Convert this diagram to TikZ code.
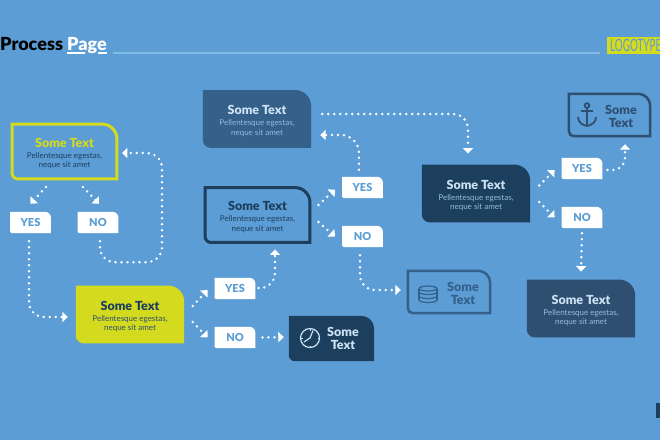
\documentclass[tikz,border=0pt]{standalone}
\usepackage{fontspec}
\setmainfont{Lato}
\newfontfamily\heavyfont{Lato Black}
\usetikzlibrary{arrows.meta,backgrounds}
\definecolor{pagebg}{HTML}{5C9DD6}
\definecolor{limec}{HTML}{D4DA1E}
\definecolor{navyc}{HTML}{1C3F5E}
\definecolor{slatec}{HTML}{2F4F70}
\definecolor{steelc}{HTML}{34608A}
\definecolor{paleb}{HTML}{CDE2F3}
\definecolor{softb}{HTML}{94BBDD}
\definecolor{rulec}{HTML}{82BBE8}
\newcommand{\boxtitlefont}{\fontsize{12.5}{12.5}\heavyfont\selectfont}
\newcommand{\boxdescfont}{\fontsize{8}{9.5}\selectfont}
\newcommand{\flowtext}[2]{\rule{0pt}{13pt}\textcolor{#1}{\boxtitlefont Some Text}\\[1.5pt]\textcolor{#2}{\boxdescfont Pellentesque egestas,}\\\textcolor{#2}{\boxdescfont neque sit amet}}
\newcommand{\tagpath}[3]{(#1.north west) -- ([xshift=-#2]#1.north east) arc[start angle=90,end angle=0,radius=#2] -- (#1.south east) -- ([xshift=#3]#1.south west) arc[start angle=270,end angle=180,radius=#3] -- cycle}
\tikzset{
  flowbox/.style={inner sep=0pt,align=center,minimum width=#1,font=\fontsize{8}{9.5}\selectfont},
  bigbox/.style={flowbox=108pt,minimum height=57.5pt},
  ringbox/.style={flowbox=104.5pt,minimum height=54.5pt},
  smallbox/.style={inner sep=0pt,minimum width=85pt,minimum height=45pt,align=center,text width=60pt,font=\fontsize{12.5}{13.5}\heavyfont\selectfont},
  answer/.style={inner sep=0pt,minimum width=40.5pt,minimum height=21pt,text=pagebg,font=\fontsize{11}{11}\heavyfont\selectfont},
  dots/.style={white,line width=2.7pt,line cap=round,dash pattern=on 0pt off 6pt,-{Triangle[length=5.5pt,width=10pt]}},
  curved/.style={dots,rounded corners=#1},
}
\begin{document}
\begin{tikzpicture}[x=1pt,y=-1pt]
\useasboundingbox (0,0) rectangle (660,440);
% title row
\node[inner sep=0pt,anchor=base west,font=\fontsize{18}{18}\heavyfont\selectfont] (headA) at (0,50) {Process};
\node[inner sep=0pt,anchor=base west,text=white,font=\fontsize{18}{18}\heavyfont\selectfont] (headB) at (67,50) {Page};
\node[fill=limec,inner sep=0pt,minimum width=53pt,minimum height=17pt,anchor=north west] (logo) at (607,37) {};
\node[inner sep=0pt,anchor=west,text=pagebg,font=\fontsize{17}{17}\selectfont] (logotxt) at (610,45.5) {\scalebox{.58}[1]{LOGOTYPE}};
% main boxes
\node[ringbox] (green) at (64.5,151.5) {\flowtext{limec}{navyc}};
\node[bigbox] (lime) at (130,314.5) {\flowtext{navyc}{slatec}};
\node[bigbox] (top) at (257,119) {\flowtext{paleb}{softb}};
\node[ringbox] (mid) at (257.5,215) {\flowtext{navyc}{navyc}};
\node[bigbox] (dark) at (476,193.5) {\flowtext{paleb}{softb}};
\node[bigbox] (low) at (581,308.5) {\flowtext{paleb}{softb}};
\node[smallbox,text=paleb] (clock) at (331.5,338.5) {\hspace*{23pt}Some\\\hspace*{23pt}Text};
\node[smallbox,minimum width=82pt,minimum height=42pt,text=steelc] (base) at (449,292) {\rule{0pt}{12pt}\hspace*{28pt}Some\\\hspace*{28pt}Text};
\node[smallbox,minimum width=81pt,minimum height=42pt,text=slatec] (ship) at (609.5,115) {\rule{0pt}{12pt}\hspace*{23pt}Some\\\hspace*{23pt}Text};
% answers
\node[answer] (yesA) at (30.5,222.5) {YES};
\node[answer] (noA) at (98,222.5) {NO};
\node[answer] (yesB) at (235,288.5) {YES};
\node[answer] (noB) at (235,337.5) {NO};
\node[answer] (yesC) at (362.5,187.5) {YES};
\node[answer] (noC) at (362.5,236.5) {NO};
\node[answer] (yesD) at (582,168.5) {YES};
\node[answer] (noD) at (582,217.5) {NO};
\begin{scope}[on background layer]
\fill[pagebg] (0,0) rectangle (660,440);
\fill[navyc] (656,403) rectangle (660,418);
\draw[rulec,line width=1.6pt] (113,53) -- (600,53);
\draw[white,line width=1.6pt] (67,53) -- (85,53) (98,53) -- (107,53);
\foreach \n/\sty/\ra/\rb in {
  green/{draw=limec,line width=3pt}/15pt/6pt,
  lime/{fill=limec}/16pt/8pt,
  top/{fill=steelc}/16pt/8pt,
  mid/{draw=navyc,line width=3pt}/15pt/6pt,
  dark/{fill=navyc}/16pt/8pt,
  low/{fill=slatec}/16pt/8pt,
  clock/{fill=navyc}/13pt/6pt,
  base/{draw=steelc,line width=2.5pt}/12pt/5pt,
  ship/{draw=slatec,line width=2.5pt}/12pt/5pt,
  yesA/{fill=white}/6pt/1.5pt,noA/{fill=white}/6pt/1.5pt,
  yesB/{fill=white}/6pt/1.5pt,noB/{fill=white}/6pt/1.5pt,
  yesC/{fill=white}/6pt/1.5pt,noC/{fill=white}/6pt/1.5pt,
  yesD/{fill=white}/6pt/1.5pt,noD/{fill=white}/6pt/1.5pt}
  \path[style/.expanded=\sty] \tagpath{\n}{\ra}{\rb};
\end{scope}
% connectors
\draw[dots] ([shift={(-18.5,8)}]green.south) -- ([shift={(0,-8)}]yesA.north);
\draw[dots] ([shift={(18.5,8)}]green.south) -- ([shift={(1,-8)}]noA.north);
\draw[curved=15pt] ([shift={(2,8)}]noA.south) -- ++(0,21) -- ++(62,0) |- ([shift={(5,1.5)}]green.east);
\draw[curved=15pt] ([shift={(-1.5,8)}]yesA.south) |- ([shift={(-8,2.5)}]lime.west);
\draw[dots] ([shift={(8.5,-8.5)}]lime.east) -- ([shift={(-7,1.5)}]yesB.west);
\draw[dots] ([shift={(8.5,7.5)}]lime.east) -- ([shift={(-7,0)}]noB.west);
\draw[curved=15pt] ([shift={(3,-.5)}]yesB.east) -| ([shift={(17.5,7)}]mid.south);
\draw[dots] ([xshift=7pt]noB.east) -- ([shift={(-5,-1.5)}]clock.west);
\draw[dots] ([shift={(8.5,-10)}]mid.east) -- ([shift={(-7,2)}]yesC.west);
\draw[dots] ([shift={(8.5,7)}]mid.east) -- ([shift={(-7,0)}]noC.west);
\draw[curved=18pt] ([shift={(-3.5,-7)}]yesC.north) |- ([shift={(9,16)}]top.east);
\draw[curved=15pt] ([shift={(-2.5,8)}]noC.south) |- ([shift={(-7,-2)}]base.west);
\draw[curved=15pt] ([shift={(11,-5)}]top.east) -| ([shift={(-8,-11)}]dark.north);
\draw[dots] ([shift={(9,-8)}]dark.east) -- ([shift={(-7,1.5)}]yesD.west);
\draw[dots] ([shift={(9,8.5)}]dark.east) -- ([shift={(-7,0)}]noD.west);
\draw[curved=12pt] ([shift={(5,1.5)}]yesD.east) -| ([shift={(15.5,8)}]ship.south);
\draw[dots] ([yshift=-5pt]noD.south) -- ([yshift=8pt]low.north);
% icons
\draw[paleb,line width=1.2pt] (310,338) circle[radius=9.5];
\draw[paleb,line width=1.2pt] (313,330.5) -- (310,338) -- (304,342);
\foreach \ang in {0,90,180,270}
  \draw[paleb,line width=.8pt] (310,338) ++(\ang:7.5) -- ++(\ang:1.5);
\foreach \y in {292,296,300}
  \draw[steelc,line width=1.2pt] (419,\y) arc[start angle=180,end angle=360,x radius=9pt,y radius=2.5pt];
\draw[steelc,line width=1.2pt] (428,288.5) ellipse[x radius=9pt,y radius=2.5pt];
\draw[steelc,line width=1.2pt] (419,288.5) -- (419,300) (437,288.5) -- (437,300);
\draw[slatec,line width=1.8pt] (587,105.5) circle[radius=2.3];
\draw[slatec,line width=1.8pt] (587,108) -- (587,126) (581,111) -- (593,111);
\draw[slatec,line width=1.8pt] (578,117) .. controls (578,123) and (583,125) .. (587,126) .. controls (591,125) and (596,123) .. (596,117);
\end{tikzpicture}
\end{document}
